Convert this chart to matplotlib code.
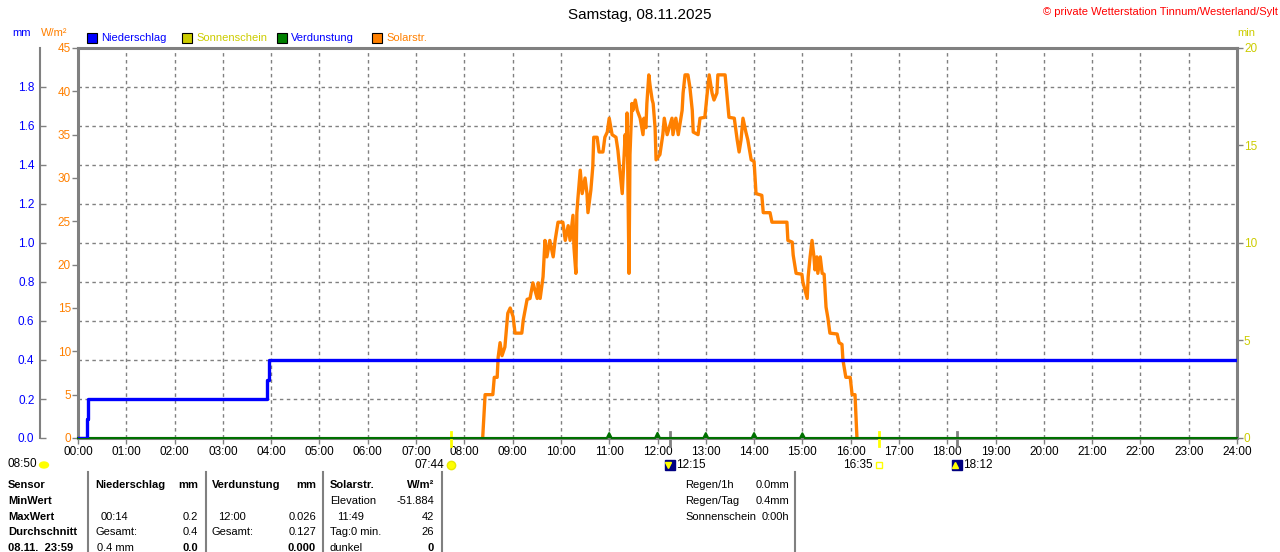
import matplotlib
matplotlib.use("Agg")
import matplotlib.pyplot as plt
import matplotlib.transforms as mtransforms
from matplotlib.patches import Rectangle, Ellipse
from matplotlib.lines import Line2D
from matplotlib.ticker import MultipleLocator

plt.rcParams['font.family'] = ['Liberation Sans', 'DejaVu Sans']
plt.rcParams['font.size'] = 8

# ---- data ----
# Niederschlag, kumuliert (mm)
rain_t = [0, 0.19, 0.21, 3.92, 3.95, 24]
rain_mm = [0, 0.1, 0.2, 0.3, 0.4, 0.4]

# Verdunstung, stuendlich (mm)
evap_h = [11, 12, 13, 14, 15]
evap_mm = [0.025, 0.026, 0.025, 0.025, 0.024]

# Solarstrahlung (W/m2), Zeit in Stunden
solar_t = [8.38, 8.43, 8.59, 8.62, 8.68, 8.70, 8.74, 8.78, 8.84, 8.90, 8.95,
           9.01, 9.05, 9.19, 9.22, 9.30, 9.36, 9.42, 9.51, 9.53, 9.57, 9.63,
           9.67, 9.71, 9.77, 9.84, 9.88, 9.94, 10.04, 10.09, 10.15, 10.19,
           10.25, 10.27, 10.31, 10.33, 10.35, 10.40, 10.44, 10.50, 10.54,
           10.56, 10.62, 10.66, 10.68, 10.75, 10.79, 10.87, 10.91, 10.96,
           11.00, 11.06, 11.14, 11.18, 11.22, 11.27, 11.29, 11.33, 11.35,
           11.37, 11.39, 11.41, 11.43, 11.47, 11.49, 11.54, 11.58, 11.64,
           11.70, 11.72, 11.76, 11.78, 11.82, 11.85, 11.89, 11.91, 11.95,
           11.97, 12.05, 12.11, 12.14, 12.20, 12.30, 12.32, 12.38, 12.43,
           12.51, 12.53, 12.57, 12.63, 12.67, 12.72, 12.74, 12.84, 12.88,
           12.98, 13.03, 13.07, 13.13, 13.17, 13.23, 13.25, 13.40, 13.44,
           13.48, 13.59, 13.65, 13.69, 13.73, 13.77, 13.83, 13.87, 13.94,
           14.00, 14.04, 14.16, 14.19, 14.33, 14.37, 14.68, 14.70, 14.79,
           14.81, 14.87, 14.99, 15.01, 15.10, 15.12, 15.16, 15.20, 15.24,
           15.26, 15.30, 15.32, 15.37, 15.41, 15.45, 15.49, 15.53, 15.57,
           15.72, 15.76, 15.82, 15.84, 15.90, 15.99, 16.03, 16.09, 16.13]
solar_w = [0, 5, 5, 7, 7, 9.3, 11, 9.5, 10.5, 14.4, 15,
           14, 12.1, 12.1, 13.6, 16, 16.1, 17.9, 16.1, 17.9, 16.1, 18.6,
           22.8, 20.9, 22.8, 20.9, 22.8, 24.9, 24.9, 22.8, 24.5, 22.8,
           25.7, 22, 19, 26, 27.5, 30.9, 28.2, 30, 28.2,
           26, 28.6, 31.3, 34.7, 34.7, 33, 33, 34.7, 35.3,
           36.9, 35, 34.7, 33.2, 30.9, 28.2, 30.5, 35, 32.7,
           37.5, 28.2, 19, 32.7, 38.6, 37.8, 39, 37.8, 36.9,
           35, 36.9, 35.8, 38.6, 41.9, 40.5, 39, 38.6, 35.8,
           32.1, 32.7, 35, 36.9, 35, 36.9, 35, 36.9, 35,
           37.8, 39.8, 41.9, 41.9, 40.5, 37.8, 35.3, 35, 36.9,
           37, 39.8, 41.9, 39.8, 39, 39.8, 41.9, 41.9, 39.4,
           37, 36.9, 34.4, 33, 34.4, 36.9, 35.3, 34.4, 32.1,
           31.9, 28.2, 28, 26, 26, 24.9, 24.9, 22.8, 22.6,
           21.1, 19, 18.9, 18, 16.1, 18.6, 20.9, 22.8, 20.9,
           19.4, 20.9, 19, 20.9, 19, 18.9, 15.1, 13.8, 12.1,
           12, 11, 10.8, 9, 7, 7, 5, 5, 0]

# Ereignisse unter der Zeitachse
ev_t = [7.733, 12.25, 16.583, 18.2]
ev_lab = ["07:44", "12:15", "16:35", "18:12"]

hours = list(range(0, 25))
hour_lab = ["%02d:00" % h for h in hours]

BLUE = "#0000ff"
ORANGE = "#ff8000"
YELLOW = "#cccc00"
GREEN = "#007000"
GRAY = "#808080"

W, H = 1280, 552
def fx(x):
    return x / W
def fy(y):
    return 1 - y / H

fig = plt.figure(figsize=(12.8, 5.52), dpi=100)
ax = fig.add_axes([fx(78), fy(438), (1237 - 78) / W, (438 - 48) / H])

# W/m2 axis (main)
ax.set_xlim(0, 24)
ax.set_ylim(0, 45)
ax.set_xticks(hours)
ax.set_xticklabels(hour_lab)
ax.set_yticks(range(0, 50, 5))
ax.yaxis.set_minor_locator(MultipleLocator(4.5))
ax.tick_params(axis='y', which='minor', length=0)
ax.tick_params(axis='y', which='major', colors=GRAY, labelcolor=ORANGE,
               length=4, width=1, pad=1, labelsize=8.5)
ax.tick_params(axis='x', colors=GRAY, labelcolor='black', length=4,
               width=1, pad=2, labelsize=8.5)
ax.grid(axis='x', which='major', color=GRAY, linestyle=(0, (2.5, 2.5)), lw=1)
ax.grid(axis='y', which='minor', color=GRAY, linestyle=(0, (2.5, 2.5)), lw=1)
ax.set_axisbelow(True)
for s in ['left', 'top', 'right', 'bottom']:
    ax.spines[s].set_color(GRAY)
    ax.spines[s].set_linewidth(2.2)

ax.plot(solar_t, solar_w, color=ORANGE, lw=2.4, zorder=3)

# mm axis (left, offset)
ax_mm = ax.twinx()
ax_mm.set_ylim(0, 2.0)
ax_mm.yaxis.set_ticks_position('left')
ax_mm.yaxis.set_label_position('left')
ax_mm.spines['left'].set_position(('axes', -38 / 1159))
ax_mm.spines['left'].set_visible(True)
ax_mm.spines['left'].set_color(GRAY)
ax_mm.spines['left'].set_linewidth(1.5)
for s in ['top', 'right', 'bottom']:
    ax_mm.spines[s].set_visible(False)
mm_ticks = [i * 0.2 for i in range(10)]
ax_mm.set_yticks(mm_ticks)
ax_mm.set_yticklabels(["%.1f" % v for v in mm_ticks])
ax_mm.tick_params(axis='y', direction='in', colors=GRAY, labelcolor=BLUE,
                  length=4, width=1, pad=4, labelsize=8.5)

# Verdunstung as small spikes on a base line
evap_x = [0]
evap_y = [0]
for h, v in zip(evap_h, evap_mm):
    evap_x += [h - 0.05, h, h + 0.05]
    evap_y += [0, v, 0]
evap_x.append(24)
evap_y.append(0)
ax_mm.fill(evap_x, evap_y, color=GREEN, lw=0, zorder=4, clip_on=False)
ax_mm.plot(evap_x, evap_y, color=GREEN, lw=1.5, zorder=4, clip_on=False)

ax_mm.plot(rain_t, rain_mm, color=BLUE, lw=2.4, drawstyle='steps-post',
           zorder=5)

# min axis (right)
ax_min = ax.twinx()
ax_min.set_ylim(0, 20)
ax_min.set_yticks([0, 5, 10, 15, 20])
for s in ['left', 'top', 'right', 'bottom']:
    ax_min.spines[s].set_visible(False)
ax_min.tick_params(axis='y', colors=GRAY, labelcolor=YELLOW, length=4,
                   width=1, pad=1, labelsize=8.5)

# event marks on time axis
trans = mtransforms.blended_transform_factory(ax.transData, ax.transAxes)
ev_col = ["#ffff00", GRAY, "#ffff00", GRAY]
for t, c in zip(ev_t, ev_col):
    ax.plot([t, t], [0.015, -0.021], transform=trans, color=c, lw=2,
            clip_on=False, zorder=6)

yrow = -27 / 390
# sunrise
ax.plot(ev_t[0], yrow, marker='o', ms=6, color="#ffff00", mec="#e8e800",
        transform=trans, clip_on=False)
ax.annotate(ev_lab[0], (ev_t[0], yrow), xycoords=trans, xytext=(-5, 0),
            textcoords='offset points', ha='right', va='center', fontsize=8.5)
# moon set / rise
for t, lab, mk in [(ev_t[1], ev_lab[1], 'v'), (ev_t[3], ev_lab[3], '^')]:
    ax.plot(t, yrow, marker='s', ms=7.5, color="#000080", transform=trans,
            clip_on=False)
    ax.plot(t - 0.04, yrow, marker=mk, ms=4, color="#ffff00",
            transform=trans, clip_on=False)
    ax.annotate(lab, (t, yrow), xycoords=trans, xytext=(4.5, 0),
                textcoords='offset points', ha='left', va='center',
                fontsize=8.5)
# sunset
ax.plot(ev_t[2], yrow, marker='s', ms=4, mfc='white', mec="#ffff00",
        mew=1, transform=trans, clip_on=False)
ax.annotate(ev_lab[2], (ev_t[2], yrow), xycoords=trans, xytext=(-4.5, 0),
            textcoords='offset points', ha='right', va='center', fontsize=8.5)

fig.text(fx(8), fy(464), "08:50", ha='left', va='center', fontsize=8.5)
fig.add_artist(Ellipse((fx(44), fy(465)), 9 / W, 6 / H,
                       transform=fig.transFigure, color="#ffff00"))

# title and header
fig.text(0.5, fy(15), "Samstag, 08.11.2025", ha='center', va='center',
         fontsize=11)
fig.text(fx(1278), fy(12), "\u00a9 private Wetterstation Tinnum/Westerland/Sylt",
         ha='right', va='center', color='red', fontsize=8)
fig.text(fx(22), fy(33), "mm", color=BLUE, ha='center', va='center')
fig.text(fx(54), fy(33), "W/m\u00b2", color=ORANGE, ha='center', va='center')
fig.text(fx(1246), fy(33), "min", color=YELLOW, ha='center', va='center')

leg_names = ["Niederschlag", "Sonnenschein", "Verdunstung", "Solarstr."]
leg_box = [BLUE, YELLOW, "#008000", ORANGE]
leg_txt = [BLUE, YELLOW, BLUE, ORANGE]
leg_x = [87, 182, 277, 372]
for name, bc, tc, x in zip(leg_names, leg_box, leg_txt, leg_x):
    fig.add_artist(Rectangle((fx(x), fy(43)), 10 / W, 10 / H,
                             transform=fig.transFigure, facecolor=bc,
                             edgecolor='black', lw=0.8))
    fig.text(fx(x + 14), fy(38), name, color=tc, ha='left', va='center')

# table
for x in [88, 206, 323, 442, 795]:
    fig.add_artist(Line2D([fx(x), fx(x)], [fy(472), fy(552)],
                          transform=fig.transFigure, color=GRAY, lw=1.5))

row_y = [485, 501, 517, 532, 548]
sensor_col = ["Sensor", "MinWert", "MaxWert", "Durchschnitt", "08.11.  23:59"]
for y, s in zip(row_y, sensor_col):
    fig.text(fx(8), fy(y), s, ha='left', va='center', fontweight='bold')

def cell(x, y, s, ha='left', bold=False):
    fig.text(fx(x), fy(y), s, ha=ha, va='center',
             fontweight='bold' if bold else 'normal')

cell(95, 485, "Niederschlag", bold=True)
cell(198, 485, "mm", 'right', True)
cell(212, 485, "Verdunstung", bold=True)
cell(316, 485, "mm", 'right', True)
cell(330, 485, "Solarstr.", bold=True)
cell(434, 485, "W/m\u00b2", 'right', True)

cell(330, 501, "Elevation")
cell(434, 501, "-51.884", 'right')

cell(101, 517, "00:14")
cell(198, 517, "0.2", 'right')
cell(218, 517, "12:00")
cell(316, 517, "0.026", 'right')
cell(337, 517, "11:49")
cell(434, 517, "42", 'right')

cell(95, 532, "Gesamt:")
cell(198, 532, "0.4", 'right')
cell(212, 532, "Gesamt:")
cell(316, 532, "0.127", 'right')
cell(330, 532, "Tag:0 min.")
cell(434, 532, "26", 'right')

cell(97, 548, "0.4 mm")
cell(198, 548, "0.0", 'right', True)
cell(316, 548, "0.000", 'right', True)
cell(330, 548, "dunkel")
cell(434, 548, "0", 'right', True)

summary_lab = ["Regen/1h", "Regen/Tag", "Sonnenschein"]
summary_val = ["0.0mm", "0.4mm", "0:00h"]
for y, a, b in zip([485, 501, 517], summary_lab, summary_val):
    cell(685, y, a)
    cell(789, y, b, 'right')

fig.savefig("out.png", dpi=100)
